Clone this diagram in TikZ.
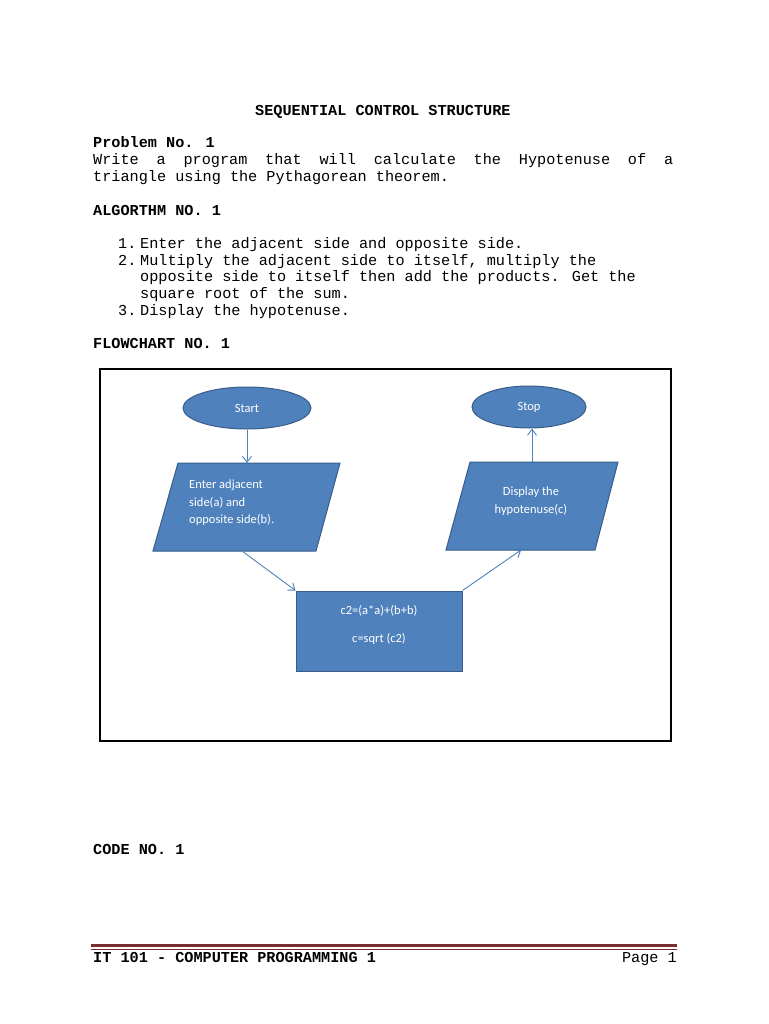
\documentclass[tikz,border=0pt]{standalone}
\usepackage{fontspec}
\setmainfont{Liberation Mono}
\newfontfamily\calibrifont{Carlito}
\usetikzlibrary{shapes.geometric,arrows.meta}
\definecolor{fcblue}{HTML}{4F81BD}
\definecolor{fcedge}{HTML}{385D8A}
\definecolor{footred}{HTML}{7B2C2C}
\begin{document}
\begin{tikzpicture}[x=1pt,y=-1pt,
  txt/.style={anchor=base west,inner sep=0pt,font=\fontsize{15.2}{16.7}\selectfont},
  btxt/.style={txt,font=\fontsize{15.2}{16.7}\selectfont\bfseries},
  shp/.style={fill=fcblue,draw=fcedge,line width=1pt},
  lbl/.style={text=white,font=\calibrifont\fontsize{12.5}{17.5}\selectfont,inner sep=0pt},
  conn/.style={draw=fcblue,line width=0.9pt,-{Straight Barb[length=6pt,width=9pt]}}]
\useasboundingbox (0,0) rectangle (768,1024);
\fill[white] (0,0) rectangle (768,1024);
\node[btxt] (title) at (255,116) {SEQUENTIAL CONTROL STRUCTURE};
\node[btxt] (prob) at (93,148) {Problem No. 1};
\node[txt] (ptext) at (93,165) {\makebox[580pt][s]{Write a program that will calculate the Hypotenuse of a}};
\node[txt] (ptext2) at (93,182) {triangle using the Pythagorean theorem.};
\node[btxt] (alg) at (93,215) {ALGORTHM NO. 1};
\node[txt] (n1) at (118,248) {1.};
\node[txt] (l1) at (140,248) {Enter the adjacent side and opposite side.};
\node[txt] (n2) at (118,265) {2.};
\node[txt] (l2) at (140,265) {Multiply the adjacent side to itself, multiply the};
\node[txt] (l2b) at (140,281.5) {opposite side to itself then add the products. Get the};
\node[txt] (l2c) at (140,298) {square root of the sum.};
\node[txt] (n3) at (118,315) {3.};
\node[txt] (l3) at (140,315) {Display the hypotenuse.};
\node[btxt] (fc) at (93,348) {FLOWCHART NO. 1};
\draw[line width=2.5pt] (100,369) rectangle (671,741);
% shapes
\node[shp,ellipse,minimum width=128pt,minimum height=42pt] (start) at (247,408) {};
\node[lbl] at (start) {Start};
\node[shp,ellipse,minimum width=114pt,minimum height=42pt] (stop) at (529,407) {};
\node[lbl] at (stop) {Stop};
\draw[shp] (178,463) -- (340,463) -- (316,551) -- (153,551) -- cycle;
\coordinate (inB) at (242,551);
\coordinate (inT) at (247,463);
\node[lbl,align=left,anchor=north west] (intext) at (189,480) {Enter adjacent\\side(a) and\\opposite side(b).};
\draw[shp] (470,462) -- (618,462) -- (595,550) -- (446,550) -- cycle;
\coordinate (outB) at (521,550);
\coordinate (outT) at (532,462);
\node[lbl,align=center] (outtext) at (531,501) {Display the\\hypotenuse(c)};
\node[shp,minimum width=166pt,minimum height=80pt,inner sep=0pt] (proc) at (379,631) {};
\node[lbl,align=center] at (379,625) {c2=(a*a)+(b+b)\\[10pt]c=sqrt (c2)};
\draw[conn] (start.south) -- (inT);
\draw[conn] (inB) -- (proc.north west);
\draw[conn] (proc.north east) -- (outB);
\draw[conn] (outT) -- (outT |- stop.south);
\node[btxt] (code) at (93,854) {CODE NO. 1};
\draw[footred,line width=3pt] (91,945.5) -- (677,945.5);
\draw[footred,line width=0.7pt] (91,949.5) -- (677,949.5);
\node[btxt] (foot) at (93,962) {IT 101 - COMPUTER PROGRAMMING 1};
\node[txt,anchor=base east] (page) at (677,962) {Page 1};
\end{tikzpicture}
\end{document}
